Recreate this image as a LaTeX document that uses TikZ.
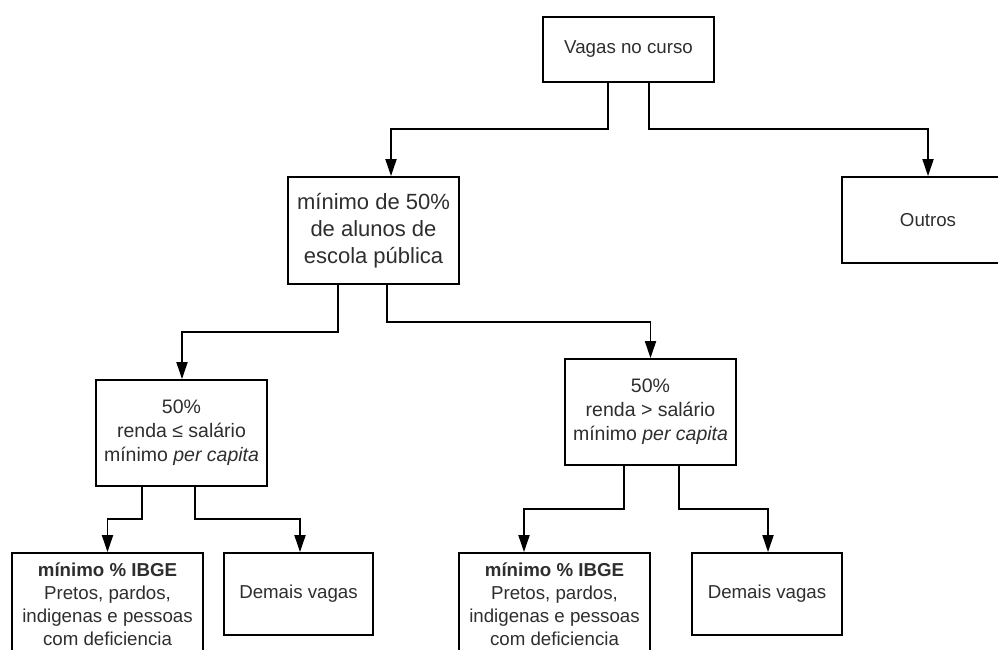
\documentclass[tikz,border=0pt]{standalone}
\usepackage{fontspec}
\setmainfont{Liberation Sans}
\usetikzlibrary{arrows.meta}
\definecolor{txt}{HTML}{2E2E2E}
\begin{document}
\begin{tikzpicture}[x=1pt,y=-1pt,
  box/.style={draw=black, line width=1.8pt, fill=white, inner sep=0pt,
    text=txt, align=center, font=\fontsize{18.7}{23}\selectfont},
  bigtxt/.style={font=\fontsize{22}{27}\selectfont},
  midtxt/.style={font=\fontsize{19.5}{24}\selectfont},
  link/.style={draw=black, line width=1.8pt,
    -{Triangle[length=17pt,width=11pt]}},
]
\useasboundingbox (0,0) rectangle (998,650);
\clip (0,0) rectangle (998,650);

% boxes
\node[box, minimum width=171, minimum height=65] (vagas) at (628.5,49.5) {Vagas no curso};
\node[box, bigtxt, minimum width=171, minimum height=107] (mid) at (373.5,230.5)
  {mínimo de 50\%\\de alunos de\\escola pública};
\node[box, minimum width=172, minimum height=86] (outros) at (928,220) {Outros};
\node[box, midtxt, minimum width=171, minimum height=106] (lowL) at (181.5,433)
  {50\%\\renda ≤ salário\\mínimo \textit{per capita}};
\node[box, midtxt, minimum width=171, minimum height=106] (lowR) at (650.5,412)
  {50\%\\renda > salário\\mínimo \textit{per capita}};
\node[box, minimum width=191, minimum height=102] (bL1) at (107.5,604)
  {\textbf{mínimo \% IBGE}\\Pretos, pardos,\\indigenas e pessoas\\com deficiencia};
\node[box, minimum width=149, minimum height=82] (bL2) at (298.5,594) {Demais vagas};
\node[box, minimum width=191, minimum height=102] (bR1) at (554.5,604)
  {\textbf{mínimo \% IBGE}\\Pretos, pardos,\\indigenas e pessoas\\com deficiencia};
\node[box, minimum width=150, minimum height=82] (bR2) at (767,594) {Demais vagas};

% bend levels of the connectors
\coordinate (h1) at (0,129);
\coordinate (h2) at (0,332);
\coordinate (h3) at (0,322);
\coordinate (h4) at (0,519);
\coordinate (h5) at (0,509);

% connectors
\draw[link] ([xshift=-20.5pt]vagas.south) |- ([xshift=17.5pt]mid.north |- h1) -- ([xshift=17.5pt]mid.north);
\draw[link] ([xshift=20.5pt]vagas.south) |- (outros.north |- h1) -- (outros.north);
\draw[link] ([xshift=-35.5pt]mid.south) |- ([xshift=0.5pt]lowL.north |- h2) -- ([xshift=0.5pt]lowL.north);
\draw[link] ([xshift=13.5pt]mid.south) |- (lowR.north |- h3) -- (lowR.north);
\draw[link] ([xshift=-39.5pt]lowL.south) |- (bL1.north |- h4) -- (bL1.north);
\draw[link] ([xshift=13.5pt]lowL.south) |- ([xshift=1.5pt]bL2.north |- h4) -- ([xshift=1.5pt]bL2.north);
\draw[link] ([xshift=-26.5pt]lowR.south) |- ([xshift=-30.5pt]bR1.north |- h5) -- ([xshift=-30.5pt]bR1.north);
\draw[link] ([xshift=28.5pt]lowR.south) |- ([xshift=1pt]bR2.north |- h5) -- ([xshift=1pt]bR2.north);
\end{tikzpicture}
\end{document}
